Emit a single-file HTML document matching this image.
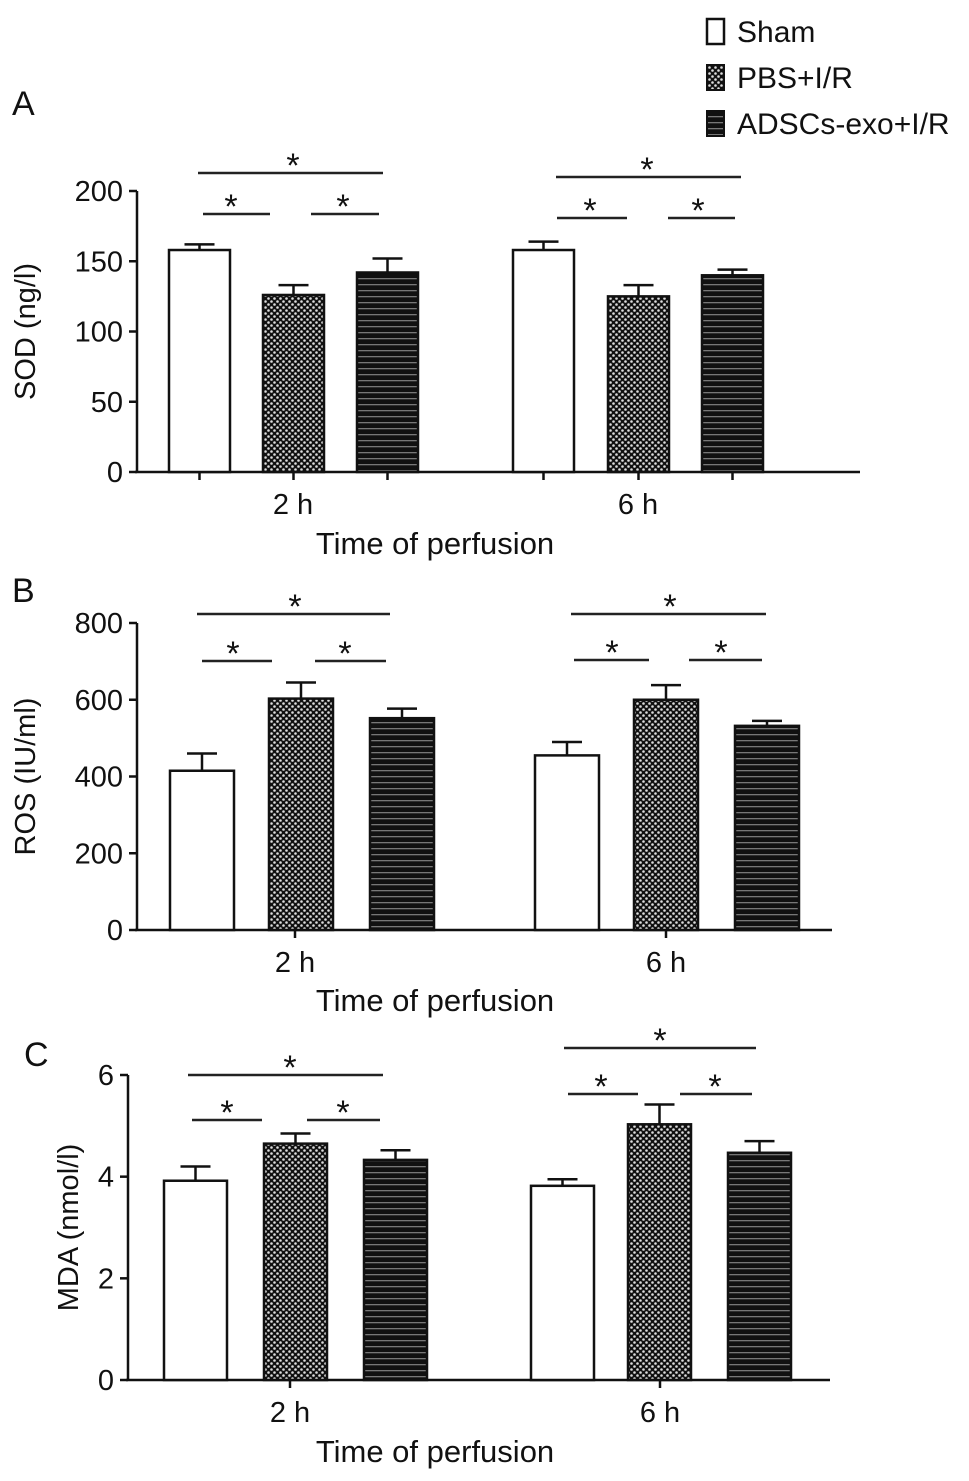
<!DOCTYPE html>
<html><head><meta charset="utf-8"><style>
html,body{margin:0;padding:0;background:#fff;}
svg{display:block;font-family:"Liberation Sans",Arial,sans-serif;}
</style></head><body>
<svg id="fig" width="969" height="1481" viewBox="0 0 969 1481" xmlns="http://www.w3.org/2000/svg">
<defs>
<pattern id="checker" width="6" height="6" patternUnits="userSpaceOnUse">
<rect width="6" height="6" fill="#111"/>
<circle cx="1.5" cy="1.5" r="1.3" fill="#ddd"/><circle cx="4.5" cy="4.5" r="1.3" fill="#ddd"/>
</pattern>
<pattern id="stripes" width="8" height="6" patternUnits="userSpaceOnUse">
<rect width="8" height="6" fill="#111"/><rect y="2" width="8" height="1.3" fill="#777"/>
</pattern>
</defs>
<g>
<rect x="707" y="19" width="17" height="25" fill="#fff" stroke="#111" stroke-width="2.5"/>
<text x="737" y="42" font-size="30" fill="#111">Sham</text>
<rect x="707" y="65" width="17" height="25" fill="url(#checker)" stroke="#111" stroke-width="2"/>
<text x="737" y="88" font-size="30" fill="#111">PBS+I/R</text>
<rect x="707" y="111" width="17" height="25" fill="url(#stripes)" stroke="#111" stroke-width="2"/>
<text x="737" y="134" font-size="30" fill="#111">ADSCs-exo+I/R</text>
</g>
</svg>
<script>
// Data
const groups = ["2 h", "6 h"];
const seriesNames = ["Sham", "PBS+I/R", "ADSCs-exo+I/R"];
const sodMean = [[158, 126, 142], [158, 125, 140]];
const sodErr = [[4, 7, 10], [6, 8, 4]];
const rosMean = [[415, 603, 552], [455, 600, 532]];
const rosErr = [[45, 42, 25], [35, 38, 13]];
const mdaMean = [[3.92, 4.65, 4.33], [3.82, 5.03, 4.47]];
const mdaErr = [[0.28, 0.2, 0.19], [0.13, 0.39, 0.23]];
const sodTicks = [0, 50, 100, 150, 200];
const rosTicks = [0, 200, 400, 600, 800];
const mdaTicks = [0, 2, 4, 6];

const NS = "http://www.w3.org/2000/svg";
const svg = document.getElementById("fig");
function el(tag, attrs, parent) {
  const e = document.createElementNS(NS, tag);
  for (const k in attrs) e.setAttribute(k, attrs[k]);
  (parent || svg).appendChild(e);
  return e;
}
const fills = ["#fff", "url(#checker)", "url(#stripes)"];

const panels = [
  {id:"sod", letter:"A", lx:12, ly:115, ylabel:"SOD (ng/l)", ylx:35, axX:137, y0:472, yTop:191, max:200, xEnd:860,
   mean:sodMean, err:sodErr, ticks:sodTicks, barStarts:[[169,263,357],[513,608,702]], bw:61, perBarTicks:true,
   glabel:[293,638], xtitleY:554,
   sig:[[198,383,173,293],[203,270,214,231],[311,379,214,343],[556,741,177,647],[557,627,218,590],[668,735,218,698]]},
  {id:"ros", letter:"B", lx:12, ly:602, ylabel:"ROS (IU/ml)", ylx:35, axX:137, y0:930, yTop:623, max:800, xEnd:832,
   mean:rosMean, err:rosErr, ticks:rosTicks, barStarts:[[170,269,370],[535,634,735]], bw:64, perBarTicks:false,
   glabel:[295,666], xtitleY:1011,
   sig:[[197,390,614,295],[202,272,661,233],[315,386,661,345],[571,766,614,670],[574,649,660,612],[689,762,660,721]]},
  {id:"mda", letter:"C", lx:24, ly:1066, ylabel:"MDA (nmol/l)", ylx:78, axX:128, y0:1380, yTop:1075, max:6, xEnd:830,
   mean:mdaMean, err:mdaErr, ticks:mdaTicks, barStarts:[[164,264,364],[531,628,728]], bw:63, perBarTicks:false,
   glabel:[290,660], xtitleY:1462,
   sig:[[188,383,1075,290],[192,262,1120,227],[307,380,1120,343],[564,756,1048,660],[568,638,1094,601],[680,752,1094,715]]}
];

panels.forEach(p => {
  const g = el("g", {});
  
  
  const yS = v => p.y0 - (v / p.max) * (p.y0 - p.yTop);
  const t = el("text", {x:p.lx, y:p.ly, "font-size":34, fill:"#111"}, g);
  t.textContent = p.letter;
  
  
  const ya = el("line", {x1:p.axX, y1:p.yTop, x2:p.axX, y2:p.y0, stroke:"#111", "stroke-width":2.5}, g);
  
  
  p.ticks.forEach(v => {
    el("line", {x1:p.axX-8, y1:yS(v), x2:p.axX, y2:yS(v), stroke:"#111", "stroke-width":2.5}, g);
    const tl = el("text", {x:p.axX-14, y:yS(v)+10, "font-size":29, "text-anchor":"end", fill:"#111"}, g);
    tl.textContent = v;
    
    
  });
  const yl = el("text", {x:0, y:0, "font-size":29, "text-anchor":"middle", fill:"#111",
    transform:`translate(${p.ylx},${(p.y0+p.yTop)/2}) rotate(-90)`}, g);
  yl.textContent = p.ylabel;
  
  
  const xa = el("line", {x1:p.axX-2, y1:p.y0, x2:p.xEnd, y2:p.y0, stroke:"#111", "stroke-width":2.5}, g);
  
  
  groups.forEach((gn, gi) => {
    p.mean[gi].forEach((v, si) => {
      const x = p.barStarts[gi][si];
      const top = yS(v);
      const ey = yS(v + p.err[gi][si]);
      const cx = x + p.bw / 2;
      const e1 = el("line", {x1:cx, y1:top, x2:cx, y2:ey, stroke:"#111", "stroke-width":2.5}, g);
      
      
      el("line", {x1:cx-15, y1:ey, x2:cx+15, y2:ey, stroke:"#111", "stroke-width":2.5}, g);
      const r = el("rect", {x:x, y:top, width:p.bw, height:p.y0-top, fill:fills[si], stroke:"#111", "stroke-width":2.5}, g);
      
      
      if (p.perBarTicks) el("line", {x1:cx, y1:p.y0, x2:cx, y2:p.y0+8, stroke:"#111", "stroke-width":2.5}, g);
    });
    if (!p.perBarTicks) el("line", {x1:p.glabel[gi], y1:p.y0, x2:p.glabel[gi], y2:p.y0+8, stroke:"#111", "stroke-width":2.5}, g);
    const gl = el("text", {x:p.glabel[gi], y:p.y0+42, "font-size":29, "text-anchor":"middle", fill:"#111"}, g);
    gl.textContent = gn;
    
    
  });
  const xt = el("text", {x:435, y:p.xtitleY, "font-size":31, "text-anchor":"middle", fill:"#111"}, g);
  xt.textContent = "Time of perfusion";
  
  
  p.sig.forEach(s => {
    const sl = el("line", {x1:s[0], y1:s[2], x2:s[1], y2:s[2], stroke:"#222", "stroke-width":2.5}, g);
    
    
    const st = el("text", {x:s[3], y:s[2]+4, "font-size":34, "text-anchor":"middle", fill:"#111"}, g);
    st.textContent = "*";
    
    
  });
});
</script>
</body></html>
